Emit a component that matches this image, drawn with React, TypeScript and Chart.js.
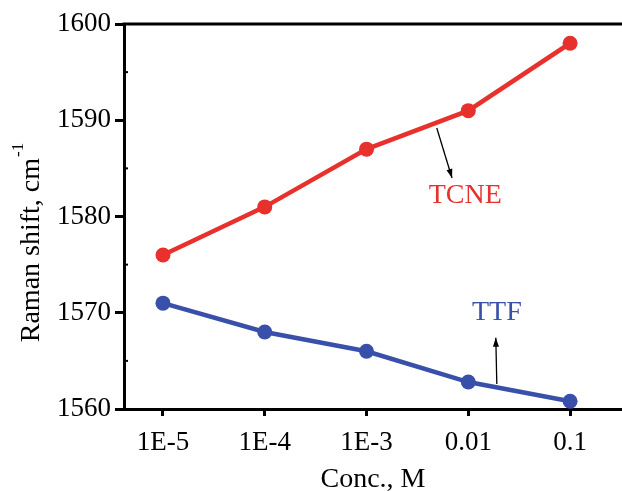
import React, { useEffect, useRef } from "react";
import { Chart, registerables } from "chart.js";

Chart.register(...registerables);

const categories = ["1E-5", "1E-4", "1E-3", "0.01", "0.1"];
const tcneValues = [1576, 1581, 1587, 1591, 1598];
const ttfValues = [1571, 1568, 1566, 1562.8, 1560.8];
const yTicks = [1560, 1570, 1580, 1590, 1600];
const yMinorTicks = [1565, 1575, 1585, 1595];

const RED = "#e8302c";
const BLUE = "#3850aa";
const FONT = "'Liberation Serif', 'Times New Roman', serif";

const decorations = {
  id: "decorations",
  afterDraw(chart: any) {
    const { ctx, chartArea, scales } = chart;
    const x = scales.x;
    const y = scales.y;
    ctx.save();
    // top border
    ctx.strokeStyle = "#000";
    ctx.lineWidth = 3;
    ctx.beginPath();
    ctx.moveTo(chartArea.left - 1.5, chartArea.top);
    ctx.lineTo(chart.width, chartArea.top);
    ctx.stroke();
    // minor y ticks (inside)
    ctx.lineWidth = 2;
    for (const v of yMinorTicks) {
      const py = y.getPixelForValue(v);
      ctx.beginPath();
      ctx.moveTo(chartArea.left, py);
      ctx.lineTo(chartArea.left + 4, py);
      ctx.stroke();
    }
    // arrows
    const arrow = (x1: number, y1: number, x2: number, y2: number) => {
      const ax = x.getPixelForValue(x1);
      const ay = y.getPixelForValue(y1);
      const bx = x.getPixelForValue(x2);
      const by = y.getPixelForValue(y2);
      ctx.strokeStyle = "#000";
      ctx.fillStyle = "#000";
      ctx.lineWidth = 1.3;
      ctx.beginPath();
      ctx.moveTo(ax, ay);
      ctx.lineTo(bx, by);
      ctx.stroke();
      const ang = Math.atan2(by - ay, bx - ax);
      const L = 9;
      const W = 3;
      ctx.beginPath();
      ctx.moveTo(bx, by);
      ctx.lineTo(bx - L * Math.cos(ang) + W * Math.sin(ang), by - L * Math.sin(ang) - W * Math.cos(ang));
      ctx.lineTo(bx - L * Math.cos(ang) - W * Math.sin(ang), by - L * Math.sin(ang) + W * Math.cos(ang));
      ctx.closePath();
      ctx.fill();
    };
    arrow(2.69, 1589.2, 2.84, 1584.0);
    arrow(3.28, 1562.6, 3.27, 1567.4);
    // labels
    ctx.font = `28px ${FONT}`;
    ctx.textAlign = "center";
    ctx.textBaseline = "middle";
    ctx.fillStyle = RED;
    ctx.fillText("TCNE", x.getPixelForValue(2.97), y.getPixelForValue(1582.2));
    ctx.fillStyle = BLUE;
    ctx.fillText("TTF", x.getPixelForValue(3.28), y.getPixelForValue(1570.0));
    // y title with superscript
    ctx.fillStyle = "#000";
    ctx.translate(32, 243);
    ctx.rotate(-Math.PI / 2);
    ctx.font = `28px ${FONT}`;
    const main = "Raman shift, cm";
    const w = ctx.measureText(main).width;
    ctx.textAlign = "left";
    ctx.font = `17px ${FONT}`;
    const sw = ctx.measureText("-1").width;
    const total = w + sw;
    ctx.font = `28px ${FONT}`;
    ctx.fillText(main, -total / 2, 0);
    ctx.font = `17px ${FONT}`;
    ctx.fillText("-1", -total / 2 + w + 1, -13);
    ctx.restore();
  },
};

export default function App() {
  const ref = useRef<HTMLCanvasElement | null>(null);
  useEffect(() => {
    if (!ref.current) return;
    const chart = new Chart(ref.current, {
      type: "line",
      data: {
        datasets: [
          {
            label: "TCNE",
            data: tcneValues.map((v, i) => ({ x: i, y: v })),
            borderColor: RED,
            backgroundColor: RED,
            borderWidth: 4.5,
            pointRadius: 7.5,
            pointBorderWidth: 0,
            pointBackgroundColor: RED,
          },
          {
            label: "TTF",
            data: ttfValues.map((v, i) => ({ x: i, y: v })),
            borderColor: BLUE,
            backgroundColor: BLUE,
            borderWidth: 4.5,
            pointRadius: 7.5,
            pointBorderWidth: 0,
            pointBackgroundColor: BLUE,
          },
        ],
      },
      options: {
        animation: false,
        responsive: false,
        maintainAspectRatio: false,
        layout: { autoPadding: false, padding: { top: 24, right: 0, left: 0, bottom: 0 } },
        plugins: { legend: { display: false }, tooltip: { enabled: false } },
        scales: {
          x: {
            type: "linear",
            min: -0.383,
            max: 4.51,
            afterBuildTicks: (s: any) => {
              s.ticks = categories.map((_, i) => ({ value: i }));
            },
            afterFit: (s: any) => {
              s.height = 82;
              s.paddingLeft = 0;
              s.paddingRight = 0;
            },
            ticks: {
              callback: (v: any) => categories[v as number] ?? "",
              color: "#000",
              font: { family: FONT, size: 27 },
              padding: 11,
              maxRotation: 0,
              autoSkip: false,
            },
            grid: {
              drawOnChartArea: false,
              drawTicks: true,
              tickLength: 7,
              color: "#000",
              lineWidth: 3,
            },
            border: { display: true, color: "#000", width: 3 },
            title: {
              display: true,
              text: "Conc., M",
              color: "#000",
              font: { family: FONT, size: 28 },
              padding: { top: 8, bottom: -5 },
            },
          },
          y: {
            min: 1560,
            max: 1600,
            afterBuildTicks: (s: any) => {
              s.ticks = yTicks.map((v) => ({ value: v }));
            },
            afterFit: (s: any) => {
              s.width = 124;
              s.paddingTop = 0;
              s.paddingBottom = 0;
            },
            ticks: {
              callback: (v: any) => String(v),
              color: "#000",
              font: { family: FONT, size: 27 },
              padding: 4,
            },
            grid: {
              drawOnChartArea: false,
              drawTicks: true,
              tickLength: 9,
              color: "#000",
              lineWidth: 3,
            },
            border: { display: true, color: "#000", width: 3 },
          },
        },
      },
      plugins: [decorations],
    });
    return () => chart.destroy();
  }, []);
  return (
    <div style={{ position: "fixed", left: 0, top: 0, width: 622, height: 491, background: "#fff" }}>
      <canvas ref={ref} width={622} height={491} style={{ width: 622, height: 491 }} />
    </div>
  );
}
